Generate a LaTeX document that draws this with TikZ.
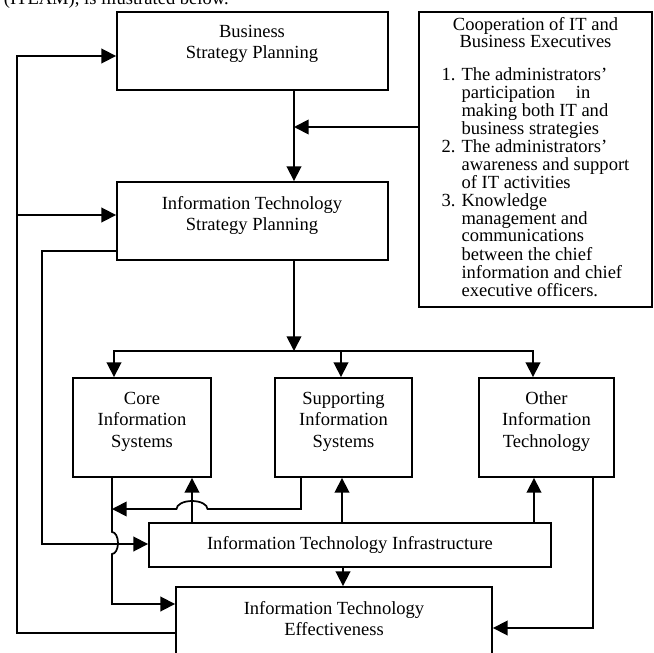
\documentclass[tikz,border=0pt]{standalone}
\usepackage{fontspec}
\setmainfont{Liberation Serif}
\usetikzlibrary{arrows.meta,fit}

\begin{document}
\begin{tikzpicture}[x=0.75pt, y=-0.75pt, line width=1.3pt,
        box/.style={draw, line width=1.4pt, inner sep=0pt},
        txt/.style={align=center, inner sep=0pt, font=\fontsize{13.9}{16.2}\selectfont},
        >={Triangle[length=11pt,width=11pt]}]
        \useasboundingbox (0,0) rectangle (654,653);

        \node[txt, anchor=base west] (intro) at (3,4) {(ITEAM), is illustrated below.};

        % boxes
        \node[box, fit={(117,12) (388,90)}] (bsp) {};
        \node[box, fit={(117,182) (388,260)}] (itsp) {};
        \node[box, fit={(419,12) (652,307)}] (coop) {};
        \node[box, fit={(73,378) (211,477)}] (core) {};
        \node[box, fit={(275,378) (412,477)}] (sis) {};
        \node[box, fit={(479,378) (614,477)}] (oit) {};
        \node[box, fit={(149,523) (551,567)}] (iti) {};
        \node[box, fit={(176,587) (492,670)}] (ite) {};

        % texts
        \node[txt] (bsp-t) at (252,44) {Business\\Strategy Planning};
        \node[txt] (itsp-t) at (252,215.5) {Information Technology\\Strategy Planning};
        \node[txt] (core-t) at (142,421.5) {Core\\Information\\Systems};
        \node[txt] (sis-t) at (343.5,421.5) {Supporting\\Information\\Systems};
        \node[txt] (oit-t) at (546.5,421.5) {Other\\Information\\Technology};
        \node[txt] (iti-t) at (350,545) {Information Technology Infrastructure};
        \node[txt] (ite-t) at (334,618.5) {Information Technology\\Effectiveness};
        \node[txt, font=\fontsize{13.9}{12.9}\selectfont] (coop-t) at (coop.center)
            {Cooperation of IT and\\Business Executives\\[12pt]
            \begin{tabular}[t]{@{}r@{\hspace{4.5pt}}l@{}}
                1. & The administrators’\\
                   & participation\hspace{15.5pt}in\\
                   & making both IT and\\
                   & business strategies\\
                2. & The administrators’\\
                   & awareness and support\\
                   & of IT activities\\
                3. & Knowledge\\
                   & management and\\
                   & communications\\
                   & between the chief\\
                   & information and chief\\
                   & executive officers.
            \end{tabular}};

        % feedback on the left
        \draw[->] (ite.west |- 0,633) -- (17,633) -- (17,56) -- (bsp.west |- 0,56);
        \draw[->] (17,215) -- (itsp.west |- 0,215);
        \draw[->] (itsp.west |- 0,251) -- (42,251) -- (42,544) -- (iti.west |- 0,544);

        % planning chain
        \draw[->] (294,0 |- bsp.south) -- (294,0 |- itsp.north);
        \draw[->] (coop.west |- 0,127) -- (294,127);
        \draw[->] (294,0 |- itsp.south) -- (294,351);
        \draw[<->] (114,0 |- core.north) -- (114,351) -- (533,351) -- (533,0 |- oit.north);
        \draw[->] (341,351) -- (341,0 |- sis.north);

        % infrastructure
        \foreach \x/\n in {192/core, 342/sis, 534/oit}
            \draw[->] (\x,0 |- iti.north) -- (\x,0 |- \n.south);
        \draw[->] (343,0 |- iti.south) -- (343,0 |- ite.north);

        % into effectiveness
        \draw[->] (112,0 |- core.south) -- (112,532)
            arc[start angle=-90, end angle=90, x radius=6, y radius=11] -- (112,604) -- (ite.west |- 0,604);
        \draw[->] (301,0 |- sis.south) -- (301,509) -- (207.5,509)
            arc[start angle=0, end angle=-180, x radius=15.5, y radius=8] -- (112,509);
        \draw[->] (593,0 |- oit.south) -- (593,628) -- (ite.east |- 0,628);
\end{tikzpicture}
\end{document}
